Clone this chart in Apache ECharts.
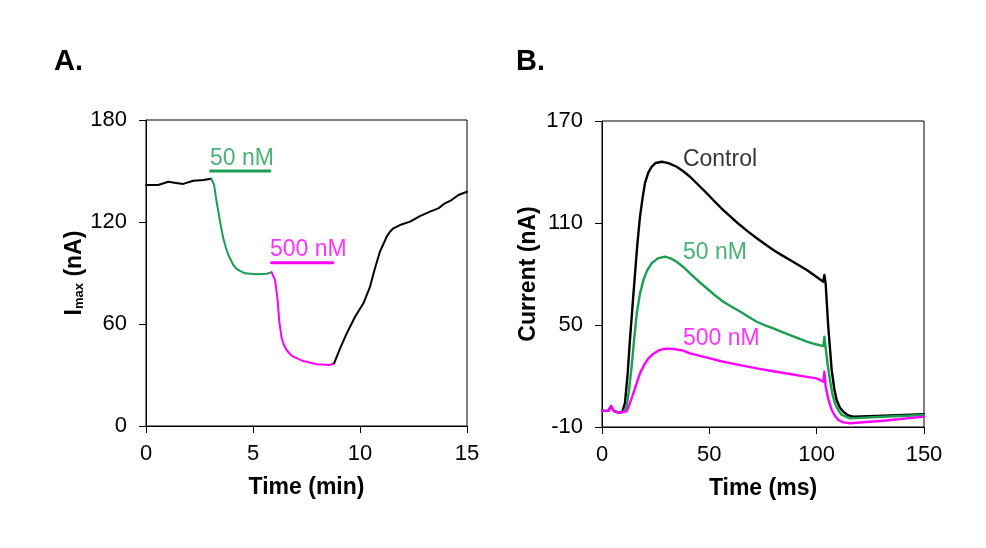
<!DOCTYPE html>
<html>
<head>
<meta charset="utf-8">
<title>Imax and current traces</title>
<script src="https://cdn.jsdelivr.net/npm/echarts@6/dist/echarts.min.js"></script>
<style>
  html, body { margin: 0; padding: 0; background: #fff; }
  #chart { width: 986px; height: 548px; }
</style>
</head>
<body>
<div id="chart"></div>
<script>
// Panel A: Imax (nA) vs time (min), [time, value]
var aControlPre = [[0, 141.8], [0.57, 141.8], [1.04, 143.7], [1.4, 143.0], [1.74, 142.4], [2.21, 144.3], [2.68, 144.7], [3.05, 145.5]];
var a50nM = [[3.05, 145.5], [3.18, 141.8], [3.3, 132], [3.46, 120.2], [3.61, 110.4], [3.73, 105], [3.85, 100.6], [4.08, 94.7], [4.22, 92.6], [4.39, 91.2], [4.63, 89.8], [5.17, 89.2], [5.64, 89.6], [5.87, 90.4]];
var a500nM = [[5.87, 90.4], [6.03, 85.9], [6.14, 75.1], [6.23, 61.4], [6.34, 51.6], [6.45, 47.5], [6.57, 44.7], [6.72, 42.5], [6.88, 40.8], [7.35, 38.2], [7.98, 36.3], [8.6, 35.9], [8.79, 36.9]];
var aControlPost = [[8.79, 36.9], [9.07, 45.7], [9.38, 54.5], [9.77, 64.3], [10.16, 72.2], [10.47, 82], [10.7, 92.8], [10.93, 102.5], [11.25, 111.4], [11.4, 114.3], [11.56, 116.3], [11.87, 118.2], [12.34, 120.2], [12.8, 123.5], [13.27, 126.1], [13.66, 128], [13.97, 131], [14.28, 132.9], [14.6, 135.9], [15, 137.8]];
// application bars
var aBar50 = [[3.02, 150], [5.79, 150]];
var aBar500 = [[5.87, 96], [8.72, 96]];

// Panel B: current (nA) vs time (ms)
var bControl = [[0, -0.5], [3, -0.5], [4.2, 2.3], [5.5, -0.5], [7.6, -1.6], [9.5, -1], [10.7, 4], [12, 22], [13, 41], [14.2, 61], [15.4, 80.4], [16.5, 98], [17.7, 113.7], [19, 125.5], [20, 133.3], [21.5, 139.5], [23.1, 143], [25, 145.3], [27.8, 146], [31, 145.2], [34.8, 143.1], [38, 140.3], [41, 137.2], [44.8, 132.5], [48.8, 127.5], [52.6, 122.5], [56.5, 117.6], [60.4, 113.1], [64.3, 108.8], [68.2, 104.8], [72.1, 101], [76, 97.5], [79.8, 94.1], [83.7, 91.1], [87.6, 88.2], [91.5, 85.3], [95.4, 82.4], [99.2, 79.0], [103.1, 75.5], [103.6, 79.4], [104.2, 74], [105.4, 49], [107, 23.5], [108.2, 12.5], [109.3, 5.9], [110.8, 1.5], [112.4, -1], [114.5, -3], [117, -3.9], [131, -3.3], [150, -2.5]];
var b50nM = [[0, -0.5], [3, -0.5], [4.2, 2.3], [5.5, -0.5], [7.6, -1.6], [10, -1], [11.5, 2], [12.6, 12], [13.8, 25.5], [15, 42], [16.2, 56.9], [17.7, 68.5], [19.3, 76.5], [21, 82], [23.1, 86.3], [26, 89.2], [29.3, 90.2], [32, 89.2], [34.8, 87.2], [38, 84], [41, 80.4], [44.8, 75.9], [48.8, 71.6], [52.6, 67.5], [56.5, 63.7], [60.4, 60.7], [64.3, 57.9], [68.2, 54.8], [72.1, 51.9], [76, 49.8], [79.8, 48], [83.7, 46], [87.6, 44.1], [91.5, 42.1], [95.4, 40.2], [99.2, 38.8], [103.1, 37.6], [103.6, 43.1], [104.2, 36.3], [105.2, 26], [106.2, 17.6], [107.3, 9.5], [108.5, 4], [110, 0], [111.7, -2.9], [115.5, -4.9], [131, -4], [150, -2.9]];
var b500nM = [[0, -0.5], [3, -0.5], [4.2, 2.3], [5.5, -0.5], [7.6, -1.6], [10, -1], [11.5, -0.8], [13, 4], [14.6, 9.8], [16.2, 16], [17.7, 21.6], [19.6, 26.5], [21.6, 30.4], [23.8, 33], [26.2, 34.9], [28.8, 35.9], [31.7, 36.1], [34.8, 35.6], [37.9, 34.9], [41, 33.3], [45.6, 31.8], [50.3, 30.4], [56.5, 28.4], [64.3, 26.4], [72.1, 24.5], [79.8, 22.8], [87.6, 21.2], [94, 19.8], [100, 18.6], [103.1, 16.6], [103.6, 22.5], [104.2, 13.7], [105.5, 6], [107, 0], [108.5, -3.4], [110.1, -5.9], [112.5, -7.3], [115.5, -7.8], [131, -6.3], [150, -3.9]];

// text labels [x, y, text]
var aLabels = [[2.99, 157.4, '50 nM'], [5.79, 103.8, '500 nM']];
var bLabels = [[37.7, 147.5, 'Control'], [37.7, 92.5, '50 nM'], [37.7, 42, '500 nM']];

var BLACK = '#000000';
var GREEN = '#1a9e52';
var MAGENTA = '#ff00ff';
var FONT = 'Liberation Sans, Arial, sans-serif';
var aLabelColors = [GREEN, MAGENTA];
var bLabelColors = [BLACK, GREEN, MAGENTA];

function axisBase() {
    return {
        type: 'value',
        axisLine: { show: true, onZero: false, lineStyle: { color: '#000', width: 1 } },
        axisTick: { show: true, inside: false, length: 7, lineStyle: { color: '#000', width: 1 } },
        splitLine: { show: false },
        axisLabel: { color: '#000', fontSize: 22, fontFamily: FONT },
        nameLocation: 'middle',
        nameTextStyle: { color: '#000', fontSize: 23, fontWeight: 'bold', fontFamily: FONT }
    };
}

function mk(over) {
    var o = axisBase();
    for (var k in over) {
        if (typeof over[k] === 'object' && o[k] && !Array.isArray(over[k])) {
            o[k] = Object.assign({}, o[k], over[k]);
        } else {
            o[k] = over[k];
        }
    }
    return o;
}

function trace(data, color, xi, width) {
    return {
        type: 'line', data: data, xAxisIndex: xi, yAxisIndex: xi,
        showSymbol: false, symbol: 'none', silent: true, smooth: false,
        lineStyle: { color: color, width: width || 2, join: 'round', cap: 'round' }, animation: false
    };
}

function labelSeries(list, colors, xi) {
    return {
        type: 'scatter', xAxisIndex: xi, yAxisIndex: xi, symbolSize: 0, silent: true, animation: false,
        data: list.map(function (d, i) {
            return {
                value: [d[0], d[1]],
                label: {
                    show: true, position: 'right', distance: 0, formatter: d[2],
                    color: colors[i], fontSize: 23, fontFamily: FONT
                }
            };
        })
    };
}

var chart = echarts.init(document.getElementById('chart'), null, { renderer: 'canvas' });
chart.setOption({
    backgroundColor: '#fff',
    animation: false,
    graphic: [
        { type: 'text', left: 54, top: 47, style: { text: 'A.', fontSize: 29, fontWeight: 'bold', fontFamily: FONT, fill: '#000' } },
        { type: 'text', left: 516, top: 47, style: { text: 'B.', fontSize: 29, fontWeight: 'bold', fontFamily: FONT, fill: '#000' } }
    ],
    grid: [
        { left: 146, top: 120, width: 321, height: 306, show: true, borderColor: '#000', borderWidth: 1, backgroundColor: 'transparent' },
        { left: 602, top: 121, width: 322, height: 306, show: true, borderColor: '#000', borderWidth: 1, backgroundColor: 'transparent' }
    ],
    xAxis: [
        mk({ gridIndex: 0, min: 0, max: 15, interval: 5, name: 'Time (min)', nameGap: 50, axisLabel: { margin: 17 } }),
        mk({ gridIndex: 1, min: 0, max: 150, interval: 50, name: 'Time (ms)', nameGap: 50, axisLabel: { margin: 17 } })
    ],
    yAxis: [
        mk({
            gridIndex: 0, min: 0, max: 180, interval: 60, nameGap: 60, nameRotate: 90,
            name: '{b|I}{s|max}{b| (nA)}',
            nameTextStyle: {
                rich: {
                    b: { fontSize: 23, fontWeight: 'bold', fontFamily: FONT, color: '#000' },
                    s: { fontSize: 13, fontFamily: FONT, color: '#000', verticalAlign: 'bottom', padding: [8, 0, 0, 0] }
                }
            },
            axisLabel: { margin: 19 }
        }),
        mk({ gridIndex: 1, min: -10, max: 170, interval: 60, name: 'Current (nA)', nameGap: 62, nameRotate: 90, axisLabel: { margin: 19 } })
    ],
    series: [
        trace(aControlPre, BLACK, 0),
        trace(a50nM, GREEN, 0),
        trace(a500nM, MAGENTA, 0),
        trace(aControlPost, BLACK, 0),
        trace(aBar50, GREEN, 0, 3),
        trace(aBar500, MAGENTA, 0, 3),
        labelSeries(aLabels, aLabelColors, 0),
        trace(bControl, BLACK, 1, 2.4),
        trace(b50nM, GREEN, 1, 2.4),
        trace(b500nM, MAGENTA, 1, 2.4),
        labelSeries(bLabels, bLabelColors, 1)
    ]
});
</script>
</body>
</html>
